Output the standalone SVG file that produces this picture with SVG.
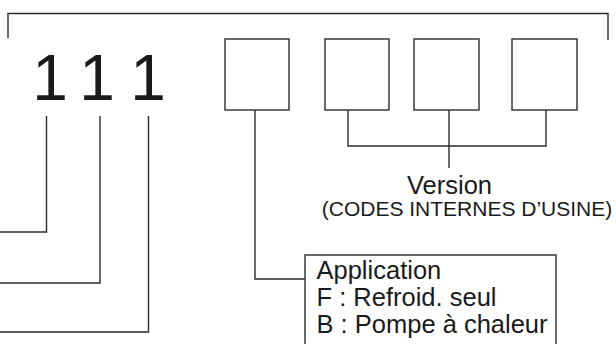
<svg xmlns="http://www.w3.org/2000/svg" width="616" height="344" viewBox="0 0 616 344">
<style>
.ln{fill:none;stroke:#2b2b2b;stroke-width:1.4}
.bx{fill:#fff;stroke:#2b2b2b;stroke-width:1.4}
.dg{font-family:"Liberation Sans",Arial,sans-serif;font-size:64px;fill:#1a1a1a;text-anchor:middle}
.tx{font-family:"Liberation Sans",Arial,sans-serif;fill:#1a1a1a}
</style>
<rect width="616" height="344" fill="#fff"/>
<g id="connectors">
<path class="ln" d="M8,38 V13.5 H608 V40"/>
<path class="ln" d="M46.5,116 V232 H0"/>
<path class="ln" d="M100,116 V283 H0"/>
<path class="ln" d="M148.5,116 V332 H0"/>
<path class="ln" d="M255,110 V279 H305"/>
<path class="ln" d="M348,110 V146 H546 V110"/>
<path class="ln" d="M449,110 V168"/>
</g>
<g id="digit1"><text class="dg" x="50" y="100">1</text></g>
<g id="digit2"><text class="dg" x="97" y="100">1</text></g>
<g id="digit3"><text class="dg" x="148" y="100">1</text></g>
<g id="box1"><rect class="bx" x="225" y="39" width="64" height="71"/></g>
<g id="box2"><rect class="bx" x="325" y="39" width="64" height="71"/></g>
<g id="box3"><rect class="bx" x="414" y="39" width="65" height="71"/></g>
<g id="box4"><rect class="bx" x="512" y="39" width="65" height="71"/></g>
<g id="version">
<text class="tx" x="449.5" y="194" font-size="25.5" text-anchor="middle">Version</text>
<text class="tx" x="467" y="216" font-size="21" text-anchor="middle">(CODES INTERNES D’USINE)</text>
</g>
<g id="application">
<rect class="bx" x="305" y="255" width="251" height="100"/>
<text class="tx" x="316.5" y="279" font-size="25.5">Application</text>
<text class="tx" x="316.5" y="306" font-size="25.5">F : Refroid. seul</text>
<text class="tx" x="316.5" y="333" font-size="25.5">B : Pompe à chaleur</text>
</g>
</svg>
